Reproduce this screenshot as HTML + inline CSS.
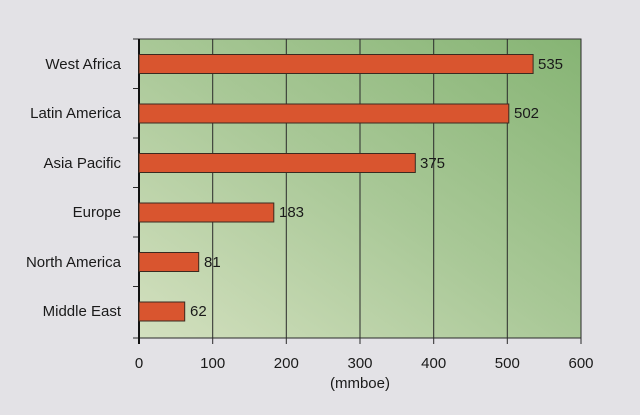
<!DOCTYPE html>
<html><head><style>
body{margin:0;background:#e3e2e6;}
svg text{font-family:"Liberation Sans",sans-serif;fill:#1a1a1a;}
</style></head><body>
<svg width="640" height="410" xmlns="http://www.w3.org/2000/svg">
<defs>
<linearGradient id="g" x1="0" y1="1" x2="1" y2="0">
<stop offset="0" stop-color="#d3e0bf"/>
<stop offset="0.5" stop-color="#a9c897"/>
<stop offset="1" stop-color="#86b474"/>
</linearGradient>
</defs>
<rect x="0" y="0" width="640" height="410" fill="#e3e2e6"/>
<rect x="139" y="39" width="442" height="299" fill="url(#g)" stroke="#333" stroke-width="1"/>
<g stroke="#2a2a2a" stroke-width="1">
<line x1="212.7" y1="39" x2="212.7" y2="344"/>
<line x1="286.3" y1="39" x2="286.3" y2="344"/>
<line x1="360" y1="39" x2="360" y2="344"/>
<line x1="433.7" y1="39" x2="433.7" y2="344"/>
<line x1="507.3" y1="39" x2="507.3" y2="344"/>
<line x1="581" y1="39" x2="581" y2="344"/>
<line x1="139" y1="338" x2="139" y2="344"/>
<line x1="133" y1="39" x2="139" y2="39"/>
<line x1="133" y1="88.5" x2="139" y2="88.5"/>
<line x1="133" y1="138" x2="139" y2="138"/>
<line x1="133" y1="187.5" x2="139" y2="187.5"/>
<line x1="133" y1="237" x2="139" y2="237"/>
<line x1="133" y1="286.5" x2="139" y2="286.5"/>
<line x1="133" y1="338" x2="581" y2="338"/>
</g>
<line x1="139" y1="39" x2="139" y2="344" stroke="#111" stroke-width="2"/>
<g fill="#d9552f" stroke="#3a2a20" stroke-width="1">
<rect x="139" y="54.5" width="394.1" height="19"/>
<rect x="139" y="104" width="369.8" height="19"/>
<rect x="139" y="153.5" width="276.3" height="19"/>
<rect x="139" y="203" width="134.8" height="19"/>
<rect x="139" y="252.5" width="59.7" height="19"/>
<rect x="139" y="302" width="45.7" height="19"/>
</g>
<g font-size="15">
<text x="538" y="69">535</text>
<text x="514" y="118">502</text>
<text x="420" y="168">375</text>
<text x="279" y="217">183</text>
<text x="204" y="267">81</text>
<text x="190" y="316">62</text>
</g>
<g font-size="15" text-anchor="end">
<text x="121" y="69">West Africa</text>
<text x="121" y="118">Latin America</text>
<text x="121" y="168">Asia Pacific</text>
<text x="121" y="217">Europe</text>
<text x="121" y="267">North America</text>
<text x="121" y="316">Middle East</text>
</g>
<g font-size="15" text-anchor="middle">
<text x="139" y="368">0</text>
<text x="212.7" y="368">100</text>
<text x="286.3" y="368">200</text>
<text x="360" y="368">300</text>
<text x="433.7" y="368">400</text>
<text x="507.3" y="368">500</text>
<text x="581" y="368">600</text>
<text x="360" y="388">(mmboe)</text>
</g>
</svg>
</body></html>
